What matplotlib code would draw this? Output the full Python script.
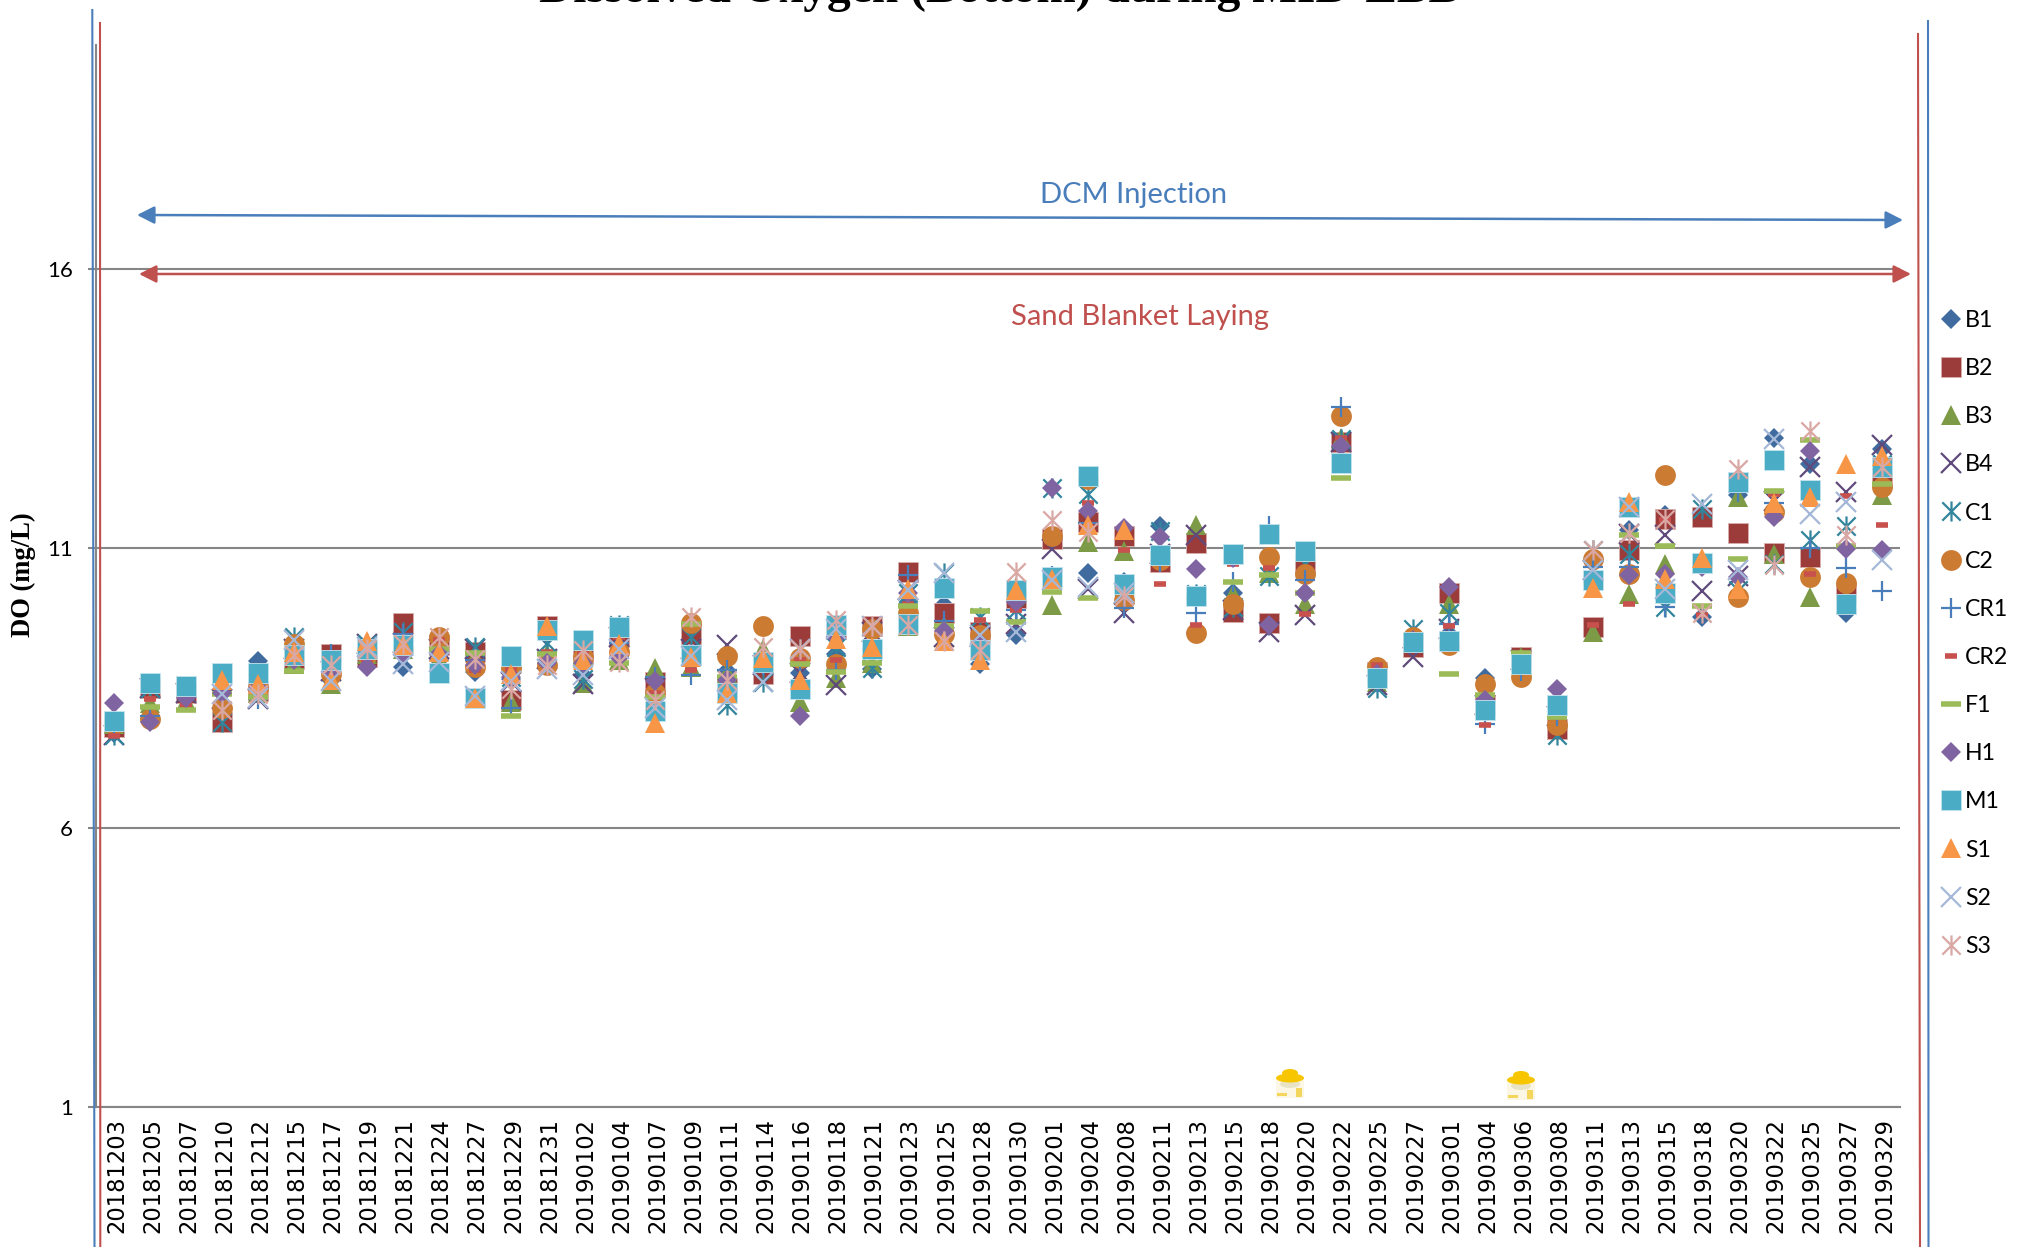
import numpy as np
from matplotlib import pyplot as plt
from matplotlib import transforms
from matplotlib.lines import Line2D
from matplotlib.patches import Ellipse, Rectangle
from matplotlib.path import Path

plt.rcParams['font.family'] = ['Lato', 'DejaVu Sans']

nan = np.nan
W, H = 2026, 1247

dates = ['20181203','20181205','20181207','20181210','20181212','20181215','20181217','20181219','20181221','20181224',
         '20181227','20181229','20181231','20190102','20190104','20190107','20190109','20190111','20190114','20190116',
         '20190118','20190121','20190123','20190125','20190128','20190130','20190201','20190204','20190208','20190211',
         '20190213','20190215','20190218','20190220','20190222','20190225','20190227','20190301','20190304','20190306',
         '20190308','20190311','20190313','20190315','20190318','20190320','20190322','20190325','20190327','20190329']

B1 = [7.69,7.95,8.5,8.4,8.98,9.0,8.64,9.0,8.88,9.0,8.78,8.65,9.42,8.72,9.35,8.6,9.32,8.8,9.0,8.76,9.1,8.83,10.0,9.98,8.92,
      9.45,10.5,10.56,10.4,11.39,9.48,10.2,9.6,10.2,12.9,8.6,9.3,9.47,8.68,8.95,7.9,10.5,11.32,11.6,9.77,11.95,12.97,12.5,9.83,12.78]
B2 = [7.8,8.5,8.4,7.88,8.45,9.02,9.11,9.05,9.66,9.26,9.14,8.28,9.6,9.1,9.41,8.6,9.47,8.5,8.75,9.42,9.56,9.6,10.58,9.84,9.5,
      10.1,11.17,11.47,11.21,10.75,11.09,9.86,9.66,10.72,12.9,8.78,9.23,10.2,8.2,9.05,7.77,9.58,10.96,11.52,11.55,11.27,10.91,10.84,10.2,12.27]
B3 = [7.86,8.22,8.26,8.3,8.4,8.93,8.56,9.1,9.2,9.02,9.05,8.25,9.1,8.58,9.0,8.86,8.88,8.76,9.2,8.25,8.67,8.94,9.6,9.6,9.4,
      10.3,9.98,11.11,10.94,10.9,11.42,10.18,10.55,10.0,12.96,8.6,9.3,10.0,8.3,9.05,8.0,9.49,10.18,10.72,10.74,11.91,10.89,10.12,10.1,11.95]
B4 = [7.65,8.5,8.4,8.3,8.3,9.2,8.8,9.29,9.3,9.2,9.2,8.6,9.02,8.57,9.4,8.5,9.2,9.26,8.9,8.76,8.55,9.5,10.25,9.4,9.4,
      9.65,10.99,10.27,9.83,10.9,11.23,9.9,9.5,9.8,12.9,8.55,9.05,9.55,8.2,9.0,8.0,10.6,11.26,11.23,10.23,10.5,11.85,12.45,12.0,12.84]
C1 = [7.65,8.5,8.5,7.88,8.7,9.4,8.9,9.29,9.5,9.3,9.23,8.7,9.3,8.66,9.62,8.3,9.4,8.19,8.61,9.2,9.23,8.85,10.2,10.55,9.77,
      9.9,12.08,11.97,10.3,11.3,10.18,9.95,10.5,10.72,12.95,8.5,9.56,9.83,8.1,8.9,7.65,10.96,10.9,9.95,11.7,10.25,10.72,11.14,11.39,12.5]
C2 = [7.85,7.95,8.5,8.14,8.5,9.29,8.75,9.1,9.2,9.41,8.88,8.85,8.9,9.05,9.14,8.4,9.66,9.06,9.61,9.03,8.92,9.55,9.83,9.47,9.45,
      10.2,11.21,12.23,10.07,10.78,9.48,10.0,10.84,10.54,13.36,8.87,9.41,9.26,8.56,8.7,7.83,10.81,10.53,12.31,10.74,10.12,11.64,10.48,10.37,12.09]
CR1 = [7.85,8.0,8.5,8.4,8.3,9.0,9.1,9.2,9.47,9.2,9.0,8.14,9.0,8.9,9.3,8.7,8.73,8.82,8.9,8.9,8.82,9.2,10.52,9.7,9.3,
       9.9,10.5,11.45,9.92,10.75,9.83,10.39,11.4,10.42,13.52,8.6,9.3,9.65,7.85,8.8,8.0,10.66,10.66,9.95,10.7,12.0,11.8,11.0,10.64,10.23]
CR2 = [7.63,8.30,8.20,8.45,8.4,9.1,8.9,9.0,9.3,9.35,8.82,8.81,9.14,9.12,9.4,8.4,8.82,8.5,8.9,9.0,9.0,9.3,10.0,9.5,9.72,
       9.9,10.5,11.81,10.97,10.36,9.62,10.72,10.65,9.82,12.97,8.9,9.3,9.6,7.83,9.0,8.0,9.62,10.0,11.5,9.8,10.15,11.96,10.54,11.94,11.42]
F1 = [7.85,8.15,8.11,8.38,8.34,8.80,9.0,9.2,9.2,9.2,9.13,7.99,9.1,8.9,8.94,8.33,9.65,8.7,8.85,8.92,8.79,8.94,9.96,9.6,9.88,
      9.67,10.22,10.1,10.3,10.9,10.1,10.39,10.51,10.2,12.26,8.6,9.42,8.74,8.37,9.13,7.97,10.4,11.24,11.03,9.97,10.81,12.02,12.94,11.04,12.14]
H1 = [8.23,7.89,8.32,8.4,8.5,9.0,8.8,8.87,9.1,9.1,8.9,8.7,8.95,8.95,9.05,8.62,9.1,8.64,9.0,8.0,9.4,9.2,10.2,9.51,9.3,
      10.04,12.08,11.67,11.35,11.19,10.63,10.82,9.62,10.2,12.82,8.75,9.35,10.3,8.28,8.9,8.47,10.4,10.51,10.54,10.66,10.48,11.55,12.73,10.98,10.96]
M1 = [7.90,8.59,8.53,8.76,8.76,9.09,9.0,9.2,9.26,8.77,8.32,9.07,9.53,9.36,9.59,8.08,9.08,8.41,8.97,8.47,9.62,9.19,9.65,10.29,9.17,
      10.25,10.48,12.29,10.36,10.88,10.15,10.9,11.25,10.95,12.53,8.67,9.32,9.33,8.1,8.92,8.2,10.42,11.74,10.2,10.74,12.18,12.57,12.03,10.0,12.45]
S1 = [nan,nan,nan,8.64,8.57,9.14,8.64,9.34,9.26,9.14,8.31,8.74,9.61,8.99,9.29,7.87,9.05,8.4,9.03,8.64,9.38,9.23,10.26,9.34,9.0,
      10.25,10.45,11.42,11.33,nan,nan,nan,nan,nan,nan,nan,nan,nan,nan,nan,nan,10.29,11.83,10.45,10.82,10.26,11.81,11.91,12.5,12.64]
S2 = [nan,nan,nan,8.39,8.31,9.35,8.63,9.23,8.93,8.96,8.36,8.63,8.84,8.72,9.2,8.13,9.07,8.28,8.61,9.2,9.56,9.6,10.25,10.56,9.44,
      9.5,10.42,10.3,10.2,nan,nan,nan,nan,nan,nan,nan,nan,nan,nan,nan,nan,10.6,11.73,10.27,11.79,10.6,12.95,11.61,11.82,10.78]
S3 = [nan,nan,nan,8.11,8.38,9.08,8.9,9.2,9.29,9.41,9.02,8.48,8.9,9.17,8.97,8.28,9.76,8.64,9.23,9.2,9.71,9.6,9.62,9.34,9.17,
      10.57,11.5,11.29,10.15,nan,nan,nan,nan,nan,nan,nan,nan,nan,nan,nan,nan,10.96,11.27,11.52,9.84,12.42,10.69,13.09,11.23,12.45]

# excel's star marker: an x with a vertical stroke through it
star = Path([(-1,-1),(1,1),(-1,1),(1,-1),(0,-1.1),(0,1.1)],
            [Path.MOVETO,Path.LINETO,Path.MOVETO,Path.LINETO,Path.MOVETO,Path.LINETO])

series = [('B1', B1, 'D', '#3f6b9f', 10.2, 0, None),
          ('B2', B2, 's', '#9b3b3a', 14.6, 0.6, '#d9b0ae'),
          ('B3', B3, '^', '#7d9a47', 15, 0, None),
          ('B4', B4, 'x', '#604a7b', 13.7, 1.6, None),
          ('C1', C1, star, '#31859c', 14.5, 1.6, None),
          ('C2', C2, 'o', '#cc7b33', 15, 0, None),
          ('CR1', CR1, '+', '#4a7ebb', 15, 1.6, None),
          ('CR2', CR2, '_', '#c8504d', 8, 4, None),
          ('F1', F1, '_', '#9bbb59', 14.5, 4, None),
          ('H1', H1, 'D', '#8064a2', 10.2, 0, None),
          ('M1', M1, 's', '#4bacc6', 14.6, 0.6, '#c4e4ed'),
          ('S1', S1, '^', '#f79646', 15, 0, None),
          ('S2', S2, 'x', '#a5b8d8', 13.7, 1.6, None),
          ('S3', S3, star, '#d9a8a4', 14.5, 1.6, None)]

fig = plt.figure(figsize=(W/100, H/100), dpi=100)
# pixel coordinates of the picture, y going down
px = transforms.Affine2D().scale(1/W, -1/H).translate(0, 1) + fig.transFigure

ax = fig.add_axes([96/W, 1-1107/H, (1900-96)/W, (1107-45)/H])
x = np.arange(len(dates))
for name, vals, mk, col, ms, mew, edge in series:
    ax.plot(x, vals, ls='none', marker=mk, color=col, ms=ms, mew=mew, mec=edge or col, label=name, clip_on=False)

ax.set_xlim(-0.5, 49.5)
ax.set_ylim(1, 20)
ax.set_yticks([1, 6, 11, 16])
ax.set_xticks(x)
ax.set_xticklabels(dates, rotation=90, family='DejaVu Sans', size=16.3)
ax.tick_params(axis='x', length=0, pad=8)
ax.tick_params(axis='y', length=5.8, width=1.5, color='#868686', labelsize=16, pad=11)
ax.grid(axis='y', color='#868686', lw=1.5)
ax.set_axisbelow(True)
for s in ['top', 'right']:
    ax.spines[s].set_visible(False)
for s in ['left', 'bottom']:
    ax.spines[s].set_color('#868686')
    ax.spines[s].set_linewidth(1.5)
# date labels sit a little right of the categories
shift = transforms.ScaledTranslation(2.5/100, 0, fig.dpi_scale_trans)
for t in ax.get_xticklabels():
    t.set_transform(t.get_transform() + shift)

leg = fig.legend(loc='upper left', bbox_to_anchor=(1937/W, 1-310/H), frameon=False, fontsize=16.7, numpoints=1,
                 handlelength=1.2, handletextpad=0.02, labelspacing=1.17, borderpad=0, borderaxespad=0)

# vertical lines drawn over the chart
for xs, ys, c in [([92.3, 94.5], [10, H], '#4a7ebb'), ([100, 100.3], [23, H], '#c0504d'),
                  ([1918, 1920], [34, H], '#c0504d'), ([1928, 1928.5], [21, H], '#4a7ebb')]:
    fig.add_artist(Line2D(xs, ys, transform=px, color=c, lw=1.5))

# period arrows
arrow = '<|-|>,head_length=0.75,head_width=0.38'
ax.annotate('', xy=(137, 215), xytext=(1903, 220), xycoords=px, textcoords=px, annotation_clip=False,
            arrowprops=dict(arrowstyle=arrow, mutation_scale=14, color='#4a7ebb', lw=1.8, shrinkA=0, shrinkB=0))
ax.annotate('', xy=(139, 274), xytext=(1911, 274), xycoords=px, textcoords=px, annotation_clip=False,
            arrowprops=dict(arrowstyle=arrow, mutation_scale=14, color='#c0504d', lw=1.8, shrinkA=0, shrinkB=0))
fig.text(1134, 195, 'DCM Injection', transform=px, color='#4a7ebb', size=21, ha='center', va='center')
fig.text(1140, 317, 'Sand Blanket Laying', transform=px, color='#c0504d', size=21, ha='center', va='center')

fig.text(1000, 1.5, 'Dissolved Oxygen (Bottom) during MID-EBB', transform=px, family='Liberation Serif',
         weight='bold', size=34.1, ha='center', va='baseline')
fig.text(23, 575, 'DO (mg/L)', transform=px, family='Liberation Serif', weight='bold', size=19.2,
         rotation=90, ha='center', va='center')

# little weather icons on the two rainy dates
for cx, top in [(1290, 1069), (1521, 1071)]:
    fig.add_artist(Rectangle((cx-14, top+10), 28, 19, transform=px, color='#fbf7e4', lw=0))
    fig.add_artist(Ellipse((cx, top+15), 20, 8, transform=px, color='#e9e3c6', lw=0))
    fig.add_artist(Rectangle((cx-13, top+24), 10, 3, transform=px, color='#f5d65c', lw=0))
    fig.add_artist(Rectangle((cx+6, top+19), 6, 9, transform=px, color='#f5d65c', lw=0))
    fig.add_artist(Ellipse((cx, top+9), 28, 9, transform=px, color='#f7c600', lw=0))
    fig.add_artist(Ellipse((cx, top+4), 16, 8, transform=px, color='#f7c600', lw=0))

fig.savefig('out.png', dpi=100)
